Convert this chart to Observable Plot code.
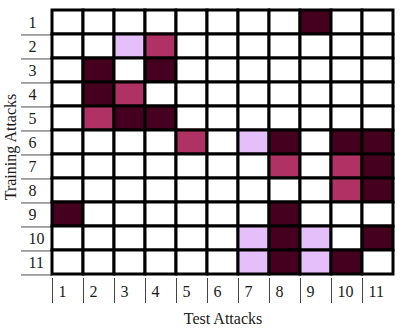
<!DOCTYPE html>
<html><head><meta charset="utf-8">
<script src="https://cdn.jsdelivr.net/npm/d3@7"></script>
<script src="https://cdn.jsdelivr.net/npm/@observablehq/plot@0.6"></script>
<style>body{margin:0;background:#fff}</style>
</head><body><div id="chart"></div>
<script>
const testAttacks = ["1","2","3","4","5","6","7","8","9","10","11"];
const trainingAttacks = ["1","2","3","4","5","6","7","8","9","10","11"];
const levels = [0, 1, 2, 3];
const levelColors = ["#ffffff", "#e4bffa", "#b03264", "#46001f"];
// level per training attack (row), across test attacks (columns)
const row1  = [0,0,0,0,0,0,0,0,3,0,0];
const row2  = [0,0,1,2,0,0,0,0,0,0,0];
const row3  = [0,3,0,3,0,0,0,0,0,0,0];
const row4  = [0,3,2,0,0,0,0,0,0,0,0];
const row5  = [0,2,3,3,0,0,0,0,0,0,0];
const row6  = [0,0,0,0,2,0,1,3,0,3,3];
const row7  = [0,0,0,0,0,0,0,2,0,2,3];
const row8  = [0,0,0,0,0,0,0,0,0,2,3];
const row9  = [3,0,0,0,0,0,0,3,0,0,0];
const row10 = [0,0,0,0,0,0,1,3,1,0,3];
const row11 = [0,0,0,0,0,0,1,3,1,3,0];
const rows = [row1,row2,row3,row4,row5,row6,row7,row8,row9,row10,row11];

const data = [];
rows.forEach((r, i) => r.forEach((v, j) => data.push({train: trainingAttacks[i], test: testAttacks[j], level: v})));

const W = 402, H = 328, mL = 52, mR = 9, mT = 5, mB = 50;
const bwX = (W - mL - mR) / testAttacks.length;
const bwY = (H - mT - mB) / trainingAttacks.length;
const FS = 16;

const chart = Plot.plot({
  width: W, height: H,
  marginLeft: mL, marginRight: mR, marginTop: mT, marginBottom: mB,
  style: {fontFamily: "'Liberation Serif', 'DejaVu Serif', serif", fontSize: FS + "px", color: "#1a1a1a", background: "#fff"},
  x: {type: "band", domain: testAttacks, padding: 0},
  y: {type: "band", domain: trainingAttacks, padding: 0},
  color: {type: "ordinal", domain: levels, range: levelColors},
  marks: [
    Plot.axisY({tickSize: 31, tickFormat: () => "", label: null, dy: bwY / 2, stroke: "#888", strokeWidth: 1.5}),
    Plot.axisY({tickSize: 0, tickPadding: 0, textAnchor: "start", dx: -24, label: null, fill: "#1a1a1a", fontSize: FS}),
    Plot.axisX({tickSize: 25, tickFormat: () => "", label: null, dx: -bwX / 2, stroke: "#444", strokeWidth: 1}),
    Plot.axisX({tickSize: 0, tickPadding: 7, textAnchor: "start", dx: -bwX / 2 + 6, label: null, fill: "#1a1a1a", fontSize: FS}),
    Plot.cell(data, {x: "test", y: "train", fill: "level", stroke: "#000", strokeWidth: 3}),
    Plot.text(["Training Attacks"], {frameAnchor: "left", textAnchor: "middle", lineAnchor: "middle", rotate: -90, dx: -42, dy: 5, fontSize: FS, fill: "#1a1a1a"}),
    Plot.text(["Test Attacks"], {frameAnchor: "bottom", textAnchor: "middle", lineAnchor: "middle", dy: 40, fontSize: FS, fill: "#1a1a1a"})
  ]
});
document.getElementById("chart").appendChild(chart);
</script>
</body></html>
